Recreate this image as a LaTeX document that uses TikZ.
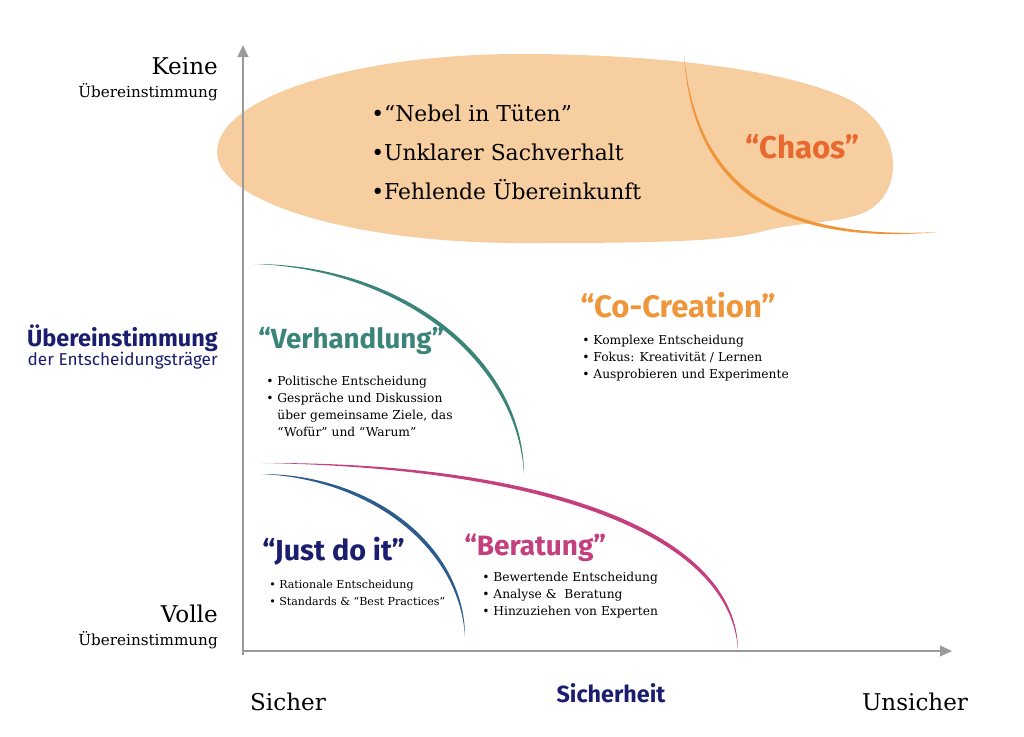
\documentclass[tikz,border=0pt]{standalone}
\usepackage{fontspec}
\setmainfont{DejaVu Serif}
\setsansfont{Fira Sans}
\usetikzlibrary{arrows.meta}
\definecolor{axisgray}{HTML}{9A9A9A}
\definecolor{blobfill}{HTML}{F7CE9F}
\definecolor{chaosline}{HTML}{F0963A}
\definecolor{chaostext}{HTML}{E8692F}
\definecolor{navy}{HTML}{1B1E6E}
\definecolor{tealline}{HTML}{3A8479}
\definecolor{magentaline}{HTML}{C43F7D}
\definecolor{blueline}{HTML}{2C5C8E}
\tikzset{
  axis/.style={draw=axisgray, line width=1.5pt, -{Triangle[length=9pt,width=8pt]}},
  bigserif/.style={inner sep=0pt, font=\fontsize{17.3}{19}\selectfont},
  smallserif/.style={inner sep=0pt, font=\fontsize{11.4}{13}\selectfont},
  quadtitle/.style={inner sep=0pt, anchor=west, font=\sffamily\bfseries\fontsize{#1}{24}\selectfont},
  quadtitle/.default=21,
  points/.style={inner sep=0pt, anchor=north west, align=left, font=\fontsize{#1}{12.75}\selectfont},
  points/.default=9.2,
}
\begin{document}
\begin{tikzpicture}[x=0.75pt, y=-0.75pt]
		%%%%% START %%%%%
		\useasboundingbox (0,0) rectangle (1024,736);
		
		% orange cloud
		\fill[blobfill] (217,152) .. controls (217,98) and (353,54) .. (520,54)
			.. controls (660,54) and (790,70) .. (850,100)
			.. controls (905,130) and (905,195) .. (863,213)
			.. controls (835,224) and (795,222) .. (760,232)
			.. controls (720,243) and (620,243) .. (520,243)
			.. controls (353,243) and (217,202) .. (217,152) -- cycle;
		
		% axes
		\coordinate (origin) at (243,655);
		\coordinate (ytop) at (243,45);
		\coordinate (xleft) at (243,651);
		\coordinate (xright) at (952,651);
		\draw[axis] (origin) -- (ytop);
		\draw[axis] (xleft) -- (xright);
		
		% curves
		\fill[chaosline] (684,55) .. controls (692,190) and (780,246) .. (938,232)
			.. controls (780,240) and (697,188) .. (684,55) -- cycle;
		\fill[tealline] (254,264) .. controls (403,264) and (524,359) .. (524,475)
			.. controls (518,361) and (401,269) .. (254,264) -- cycle;
		\fill[magentaline] (262,463) .. controls (560,462) and (738,538) .. (738,651)
			.. controls (732,540) and (558,468) .. (262,463) -- cycle;
		\fill[blueline] (261,474) .. controls (374,474) and (465,547) .. (465,637)
			.. controls (460,549) and (372,479) .. (261,474) -- cycle;
		
		% y axis labels
		\node[bigserif, anchor=east] (keine) at (218,66) {Keine};
		\node[smallserif, anchor=east] (keinesub) at (218,92) {Übereinstimmung};
		\node[inner sep=0pt, anchor=east, text=navy, font=\sffamily\bfseries\fontsize{17.6}{19}\selectfont] (yaxis) at (218,338) {Übereinstimmung};
		\node[inner sep=0pt, anchor=east, text=navy, font=\sffamily\fontsize{12.9}{14}\selectfont] (yaxissub) at (218,361) {der Entscheidungsträger};
		\node[bigserif, anchor=east] (volle) at (218,614) {Volle};
		\node[smallserif, anchor=east] (vollesub) at (218,640) {Übereinstimmung};
		
		% x axis labels
		\node[bigserif] (sicher) at (288,702) {Sicher};
		\node[inner sep=0pt, text=navy, font=\sffamily\bfseries\fontsize{17.5}{19}\selectfont] (xaxis) at (611,693) {Sicherheit};
		\node[bigserif] (unsicher) at (915,702) {Unsicher};
		
		% chaos
		\node[inner sep=0pt, anchor=west, align=left, font=\fontsize{16.4}{29.25}\selectfont] (nebel) at (371,152)
			{•“Nebel in Tüten”\\•Unklarer Sachverhalt\\•Fehlende Übereinkunft};
		\node[quadtitle=23.5, text=chaostext] (chaos) at (745,147) {“Chaos”};
		
		% quadrants
		\node[quadtitle=20.8, text=tealline] (verhandlung) at (258,341) {“Verhandlung”};
		\node[points] (verhpoints) at (266,376) {• Politische Entscheidung\\• Gespräche und Diskussion\\\phantom{• }über gemeinsame Ziele, das\\\phantom{• }“Wofür” und “Warum”};
		
		\node[quadtitle=23.3, text=chaosline] (cocreation) at (580,305) {“Co-Creation”};
		\node[points] (copoints) at (582,335) {• Komplexe Entscheidung\\• Fokus: Kreativität / Lernen\\• Ausprobieren und Experimente};
		
		\node[quadtitle=21.6, text=navy] (justdoit) at (262,551) {“Just do it”};
		\node[points=8.3] (justpoints) at (269,580) {• Rationale Entscheidung\\• Standards \& “Best Practices”};
		
		\node[quadtitle=21, text=magentaline] (beratung) at (464,548) {“Beratung”};
		\node[points] (berpoints) at (482,572) {• Bewertende Entscheidung\\• Analyse \&\ \ Beratung\\• Hinzuziehen von Experten};
		%%%%% END %%%%%
	\end{tikzpicture}
\end{document}
